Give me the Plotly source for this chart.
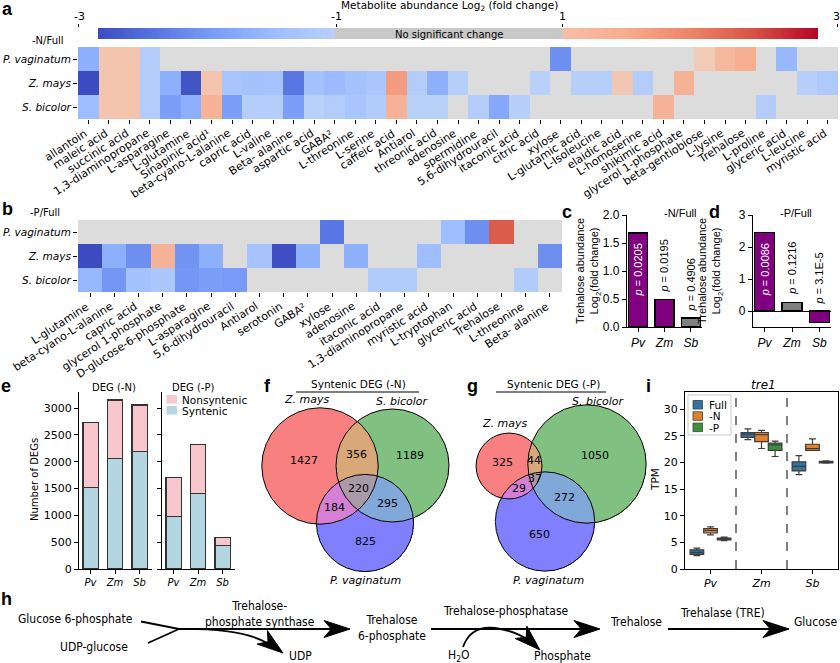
import numpy as np
import plotly.graph_objects as go

W, H = 840, 663

# ---------------- data ----------------
species_rows = ["P. vaginatum", "Z. mays", "S. bicolor"]

a_metabolites = ["allantoin", "maleic acid", "succinic acid", "1,3-diaminopropane", "L-asparagine",
                 "L-glutamine", "Sinapinic acid¹", "beta-cyano-L-alanine", "capric acid", "L-valine",
                 "Beta- alanine", "aspartic acid", "GABA²", "L-threonine", "L-serine", "caffeic acid",
                 "Antiarol", "threonic acid", "adenosine", "spermidine", "5,6-dihydrouracil",
                 "itaconic acid", "citric acid", "xylose", "L-glutamic acid", "L-Isoleucine",
                 "elaidic acid", "L-homoserine", "shikimic acid", "glycerol 1-phosphate",
                 "beta-gentiobiose", "L-lysine", "Trehalose", "L-proline", "glyceric acid",
                 "L-leucine", "myristic acid"]
a_pv = [-1.75, 1.1, 1.1, -1.1, 0, 0, 0, 0, 0, 0, 0, 0, 0, 0, 0, 0, 0, 0, 0, 0, 0, 0, 0, -2.2,
        0, 0, 0, 0, 0, 0, 1.0, 1.3, 1.45, 0, -1.6, 0, 0]
a_zm = [-3.0, 1.1, 1.1, -1.1, -1.75, -2.9, 1.1, -1.3, -1.4, -1.35, -2.5, -1.4, -1.55, -1.4, -1.25,
        1.7, -1.1, -1.75, -1.05, 0, 0, 0, -1.0, 0, -1.05, -1.05, 1.05, -1.1, 0, 1.4, 0, 0, 0, 0,
        0, -1.02, -1.2]
a_sb = [-1.5, 1.1, 1.1, -1.1, -2.0, -1.75, 1.4, -2.0, -1.08, -1.08, -2.0, -1.0, -1.1, -1.3, -1.15,
        1.4, -1.0, -1.0, 0, -1.1, -1.85, -1.02, 0, 0, 0, 0, 0, 0, 1.4, 0, 0, 0, 0, -1.1, 0, 0, 0]

b_metabolites = ["L-glutamine", "beta-cyano-L-alanine", "capric acid", "glycerol 1-phosphate",
                 "D-glucose-6-phosphate", "L-asparagine", "5,6-dihydrouracil", "Antiarol",
                 "serotonin", "GABA²", "xylose", "adenosine", "itaconic acid", "1,3-diaminopropane",
                 "myristic acid", "L-tryptophan", "glyceric acid", "Trehalose", "L-threonine",
                 "Beta- alanine"]
b_pv = [0, 0, 0, 0, 0, 0, 0, 0, 0, 0, -2.5, 0, 0, 0, 0, -1.5, -2.2, 2.4, 0, 0]
b_zm = [-3.0, -1.75, -2.2, 1.4, -2.15, -1.75, 0, -1.35, -2.95, -1.7, 0, -1.75, 0, 0, -1.5, 0, 0,
        0, 0, -2.2]
b_sb = [-1.6, -2.1, -1.4, -1.25, -2.1, -2.0, -2.05, 0, 0, 0, 0, 0, -1.15, -1.15, 0, 0, 0, 0,
        -1.15, 0]

short_species = ["Pv", "Zm", "Sb"]
treh_N = [1.68, 0.49, 0.16]
treh_N_p = ["0.0205", "0.0195", "0.4906"]
treh_P = [2.46, 0.27, -0.37]
treh_P_p = ["0.0086", "0.1216", "3.1E-5"]

deg_N_total = [2724, 3150, 3056]
deg_N_syn = [1524, 2055, 2186]
deg_P_total = [1699, 2325, 593]
deg_P_syn = [986, 1412, 431]
deg_legend = ["Nonsyntenic", "Syntenic"]

venn_regions = ["Zm", "Sb", "Zm&Sb", "Pv", "Zm&Pv", "Sb&Pv", "Zm&Sb&Pv"]
venn_N = [1427, 1189, 356, 825, 184, 295, 220]
venn_P = [325, 1050, 44, 650, 29, 272, 37]

tre1_conditions = ["Full", "-N", "-P"]
tre1_q1 = [[2.75, 24.7, 18.4], [6.75, 23.9, 22.25], [5.45, 22.25, 19.9]]
tre1_med = [[3.1, 25.3, 19.25], [7.25, 25.2, 22.6], [5.6, 23.3, 20.05]]
tre1_q3 = [[3.6, 25.6, 20.1], [7.6, 25.6, 23.4], [5.8, 23.6, 20.2]]
tre1_lo = [[2.5, 24.25, 17.7], [6.4, 22.6, 22.25], [5.3, 21.1, 19.85]]
tre1_hi = [[3.9, 26.3, 21.25], [7.9, 26.0, 24.4], [6.0, 24.0, 20.3]]

colorbar_ticks = ["-3", "-1", "1", "3"]

# ---------------- helpers ----------------
def xd(a, b):
    return [a / W, b / W]

def yd(top, bot):
    return [1 - bot / H, 1 - top / H]

DV = "DejaVu Sans"
AR = "Liberation Sans"
NARROW = "Liberation Sans Narrow, DejaVu Sans Condensed, Arial Narrow, sans-serif"

heat_cs = [[0.0, "#3b4cc0"], [1 / 12, "#5977e3"], [2 / 12, "#7b9ff9"], [3 / 12, "#9ebeff"],
           [0.3334, "#b9d0f9"], [0.3367, "#dcdcdc"], [0.6633, "#dcdcdc"], [0.6666, "#f2cbb7"],
           [0.75, "#f7ac8e"], [10 / 12, "#ee8468"], [11 / 12, "#d65244"], [1.0, "#b40426"]]

fig = go.Figure()
annots = []
shapes = []

def text(x, y, s, size=10, family=DV, xref="paper", yref="paper", color="black", **kw):
    d = dict(x=x, y=y, text=s, showarrow=False, xref=xref, yref=yref, xanchor="center",
             yanchor="middle", font=dict(family=family, size=size, color=color))
    d.update(kw)
    annots.append(d)

def ptext(px, py, s, size=10, family=DV, **kw):
    text(px / W, 1 - py / H, s, size=size, family=family, **kw)

def prect(x0, y0, x1, y1, fill, line=None):
    shapes.append(dict(type="rect", xref="paper", yref="paper", x0=x0 / W, x1=x1 / W,
                       y0=1 - y1 / H, y1=1 - y0 / H, fillcolor=fill,
                       line=line if line else dict(width=0)))

LABEL_ANGLE = -33
LABEL_SIZE = 11

# ---------------- panel a ----------------
fig.add_trace(go.Heatmap(z=[a_pv, a_zm, a_sb], x=list(range(len(a_metabolites))), y=species_rows,
                         colorscale=heat_cs, zmin=-3, zmax=3, showscale=False,
                         xaxis="x", yaxis="y", hoverinfo="skip"))
for i, lab in enumerate(a_metabolites):
    text(i, 1 - 124 / H, lab, size=LABEL_SIZE, xref="x", yref="paper", textangle=LABEL_ANGLE,
         xanchor="right", yanchor="top", xshift=4)

# colour bar (legend of the heatmap)
cb_centers = np.arange(99.5, 818, 3.0)
cb_vals = []
for c in cb_centers:
    if c < 336:
        cb_vals.append(-3 + 2 * (c - 98) / (336 - 98))
    elif c < 562:
        cb_vals.append(0.0)
    else:
        cb_vals.append(1 + 2 * (c - 562) / (818 - 562))
cb_cs = [list(p) for p in heat_cs]
cb_cs[5][1] = "#c8c8c8"
cb_cs[6][1] = "#c8c8c8"
cb_cs[7][1] = "#f7bfa6"
fig.add_trace(go.Heatmap(z=[cb_vals], x=list(cb_centers), y=[0.5], colorscale=cb_cs, zmin=-3,
                         zmax=3, showscale=False, xaxis="x2", yaxis="y2", hoverinfo="skip"))
for lab, px in zip(colorbar_ticks, (79, 336, 562, 836)):
    ptext(px, 16, lab, size=11)

# ---------------- panel b ----------------
fig.add_trace(go.Heatmap(z=[b_pv, b_zm, b_sb], x=list(range(len(b_metabolites))), y=species_rows,
                         colorscale=heat_cs, zmin=-3, zmax=3, showscale=False,
                         xaxis="x3", yaxis="y3", hoverinfo="skip"))
for i, lab in enumerate(b_metabolites):
    text(i, 1 - 297 / H, lab, size=LABEL_SIZE, xref="x3", yref="paper", textangle=LABEL_ANGLE,
         xanchor="right", yanchor="top", xshift=4)

# ---------------- panels c, d ----------------
c_colors = ["#800080", "#800080", "#808080"]
d_colors = ["#800080", "#808080", "#800080"]
fig.add_trace(go.Bar(x=[0, 1, 2], y=treh_N, width=0.72,
                     marker=dict(color=c_colors, line=dict(color="black", width=1.3)),
                     xaxis="x4", yaxis="y4", showlegend=False, hoverinfo="skip"))
fig.add_trace(go.Bar(x=[0, 1, 2], y=treh_P, width=0.72,
                     marker=dict(color=d_colors, line=dict(color="black", width=1.3)),
                     xaxis="x5", yaxis="y5", showlegend=False, hoverinfo="skip"))
for ax, vals, ps in (("4", treh_N, treh_N_p), ("5", treh_P, treh_P_p)):
    for i, (v, p) in enumerate(zip(vals, ps)):
        s = "<i>p</i> = " + p
        if i == 0:
            text(i, v, s, size=11, family=AR, xref="x" + ax, yref="y" + ax, textangle=-90,
                 yanchor="top", yshift=-9, color="white")
        else:
            text(i, max(v, 0), s, size=11, family=AR, xref="x" + ax, yref="y" + ax,
                 textangle=-90, yanchor="bottom", yshift=5)

# ---------------- panel e ----------------
syn_col = "#b3d6e0"
non_col = "#f7c7cd"
edge = dict(color="#333333", width=1.2)
for ax, tot, syn in (("6", deg_N_total, deg_N_syn), ("7", deg_P_total, deg_P_syn)):
    fig.add_trace(go.Bar(x=[0, 1, 2], y=syn, width=0.62, name=deg_legend[1],
                         marker=dict(color=syn_col, line=edge), xaxis="x" + ax, yaxis="y" + ax,
                         showlegend=False, hoverinfo="skip"))
    fig.add_trace(go.Bar(x=[0, 1, 2], y=[t - s for t, s in zip(tot, syn)], width=0.62,
                         name=deg_legend[0],
                         marker=dict(color=non_col, line=edge), xaxis="x" + ax, yaxis="y" + ax,
                         showlegend=False, hoverinfo="skip"))
for k, (lab, col) in enumerate(zip(deg_legend, (non_col, syn_col))):
    y0 = 395 + 11 * k
    prect(166.5, y0, 177, y0 + 8.5, col)
    ptext(180, y0 + 4.5, lab, size=10.5, xanchor="left")

# ---------------- panels f, g (Venn) ----------------
region_colors = ["#f88080", "#80c080", "#d8a878", "#8080ff", "#d580d5", "#80a8d8", "#aa9aa8"]
venn_layout = {
    "N": dict(centers={"Zm": (320, 466), "Sb": (392.5, 465.5), "Pv": (365, 523)}, k=1.245,
              counts=venn_N, xlim=(258, 460)),
    "P": dict(centers={"Zm": (509, 466), "Sb": (587, 464), "Pv": (545, 521.5)}, k=1.58,
              counts=venn_P, xlim=(460, 650)),
}
gx = np.arange(258.25, 650, 0.5)
gy = np.arange(378.25, 590, 0.5)
GX, GY = np.meshgrid(gx, gy)
Z = np.full(GX.shape, np.nan)
bits = {"Zm": 1, "Sb": 2, "Pv": 4}
for key, v in venn_layout.items():
    cnt = v["counts"]
    totals = {s: sum(c for r, c in zip(venn_regions, cnt) if s in r.split("&")) for s in bits}
    code = np.zeros(GX.shape, dtype=int)
    sel = (GX >= v["xlim"][0]) & (GX < v["xlim"][1])
    for s, b in bits.items():
        cx, cy = v["centers"][s]
        r = v["k"] * np.sqrt(totals[s])
        inside = (GX - cx) ** 2 + (GY - cy) ** 2 <= r ** 2
        code += b * (inside & sel)
        shapes.append(dict(type="circle", xref="x8", yref="y8", x0=cx - r, x1=cx + r,
                           y0=cy - r, y1=cy + r, line=dict(color="black", width=1)))
    Z[code > 0] = code[code > 0]
    for idx, c in enumerate(cnt):
        m = code == idx + 1
        if m.any():
            text(float(GX[m].mean()), float(GY[m].mean()), str(c), size=11,
                 xref="x8", yref="y8")
rows_keep = np.where(~np.all(np.isnan(Z), axis=1))[0]
cols_keep = np.where(~np.all(np.isnan(Z), axis=0))[0]
Zc = Z[rows_keep[0]:rows_keep[-1] + 1, cols_keep[0]:cols_keep[-1] + 1]
zlist = [[None if np.isnan(val) else int(val) for val in row] for row in Zc]
venn_cs = []
for i, col in enumerate(region_colors):
    venn_cs.append([i / 7, col])
    venn_cs.append([(i + 1) / 7, col])
fig.add_trace(go.Heatmap(z=zlist, x=list(gx[cols_keep[0]:cols_keep[-1] + 1]),
                         y=list(gy[rows_keep[0]:rows_keep[-1] + 1]), colorscale=venn_cs,
                         zmin=0.5, zmax=7.5, showscale=False, xaxis="x8", yaxis="y8",
                         hoverinfo="skip"))

# ---------------- panel i ----------------
box_colors = ["#3274a1", "#e1812c", "#3a923a"]
for j, cond in enumerate(tre1_conditions):
    fig.add_trace(go.Box(x=short_species, q1=tre1_q1[j], median=tre1_med[j], q3=tre1_q3[j],
                         lowerfence=tre1_lo[j], upperfence=tre1_hi[j], name=cond,
                         fillcolor=box_colors[j], marker_color=box_colors[j],
                         line=dict(color="#3d3d3d", width=1.2), boxpoints=False,
                         xaxis="x9", yaxis="y9", showlegend=False, hoverinfo="skip"))
for xv in (0.5, 1.5):
    shapes.append(dict(type="line", xref="x9", yref="y9", x0=xv, x1=xv, y0=0, y1=33.2,
                       line=dict(color="black", width=1, dash="dash")))
prect(688, 395, 731, 435, "white", dict(color="#cccccc", width=1))
for k, (lab, col) in enumerate(zip(tre1_conditions, box_colors)):
    y0 = 400.5 + 11.3 * k
    prect(693, y0, 702.5, y0 + 8.5, col, dict(color="#3d3d3d", width=0.8))
    ptext(707, y0 + 4.5, lab, size=10.5, xanchor="left")

# ---------------- panel h (pathway schematic) ----------------
def head(tip, ang_deg, L=26, w=8.5):
    a = np.radians(ang_deg)
    ux, uy = np.cos(a), np.sin(a)
    nx, ny = -uy, ux
    tx, ty = tip
    bx, by = tx - L * ux, ty - L * uy
    p1 = (bx + w * nx, by + w * ny)
    p2 = (tx - 0.72 * L * ux, ty - 0.72 * L * uy)
    p3 = (bx - w * nx, by - w * ny)
    return (f"M {tx:.1f},{ty:.1f} L {p1[0]:.1f},{p1[1]:.1f} L {p2[0]:.1f},{p2[1]:.1f} "
            f"L {p3[0]:.1f},{p3[1]:.1f} Z")

hk = dict(xref="x10", yref="y10")
blk = dict(color="black", width=1.8)
for (x0, y0, x1, y1) in ((141, 621.5, 179, 629), (148, 643, 179, 629), (178, 629, 332, 629),
                         (431, 629, 582, 629), (668, 629, 772, 629)):
    shapes.append(dict(type="line", x0=x0, y0=y0, x1=x1, y1=y1, line=blk, **hk))
shapes.append(dict(type="path", path="M 178,629 Q 243,628 269,644", line=blk, **hk))
shapes.append(dict(type="path", path="M 463,647 Q 471,625 495,628 Q 515,631 528,640", line=blk, **hk))
for tip, ang in (((283, 653), 37), ((350, 629), 0), ((600, 629), 0), ((789, 629), 0),
                 ((540, 650), 43)):
    shapes.append(dict(type="path", path=head(tip, ang), fillcolor="black",
                       line=dict(color="black", width=1), **hk))

hf = dict(size=12, family=NARROW, xref="x10", yref="y10")
text(75, 619, "Glucose 6-phosphate", **hf)
text(94, 647, "UDP-glucose", **hf)
text(260, 614, "Trehalose-<br>phosphate synthase", **hf)
text(300, 656, "UDP", **hf)
text(392, 628, "Trehalose<br>6-phosphate", **hf)
text(506, 611, "Trehalose-phosphatase", **hf)
text(458, 656, "H<sub>2</sub>O", **hf)
text(562, 656, "Phosphate", **hf)
text(636, 622, "Trehalose", **hf)
text(722, 613, "Trehalase (TRE)", **hf)
text(815, 622, "Glucose", **hf)

# ---------------- texts ----------------
ptext(449, 6.5, "Metabolite abundance Log<sub>2</sub> (fold change)", size=10.5)
ptext(449, 34, "No significant change", size=10)
ptext(48, 40, "-N/Full", size=10)
ptext(45, 213, "-P/Full", size=10)
ptext(680, 213, "-N/Full", size=11, family=AR)
ptext(796, 213, "-P/Full", size=11, family=AR)
ptext(588, 271, "Trehalose abundance<br>Log<sub>2</sub>(fold change)", size=11, family=AR,
      textangle=-90)
ptext(710, 271, "Trehalose abundance<br>Log<sub>2</sub>(fold change)", size=11, family=AR,
      textangle=-90)
ptext(114, 387, "DEG (-N)", size=10)
ptext(193, 387, "DEG (-P)", size=10)
ptext(34, 480, "Number of DEGs", size=10, textangle=-90)
ptext(358, 384, "Syntenic DEG (-N)", size=10.5)
ptext(553, 384, "Syntenic DEG (-P)", size=10.5)
shapes.append(dict(type="line", xref="paper", yref="paper", x0=296 / W, x1=419 / W,
                   y0=1 - 392 / H, y1=1 - 392 / H, line=dict(color="black", width=1.2)))
shapes.append(dict(type="line", xref="paper", yref="paper", x0=496 / W, x1=606 / W,
                   y0=1 - 392 / H, y1=1 - 392 / H, line=dict(color="black", width=1.2)))
ptext(306, 399, "<i>Z. mays</i>", size=11)
ptext(402, 401, "<i>S. bicolor</i>", size=11)
ptext(365, 580, "<i>P. vaginatum</i>", size=11)
ptext(504, 424, "<i>Z. mays</i>", size=11)
ptext(598, 401, "<i>S. bicolor</i>", size=11)
ptext(548, 580, "<i>P. vaginatum</i>", size=11)
ptext(763, 385, "<i>tre1</i>", size=12)
ptext(655, 480, "TPM", size=10.5, textangle=-90)

for lab, px, py in (("a", 7, 9), ("b", 7, 209), ("c", 567, 212), ("d", 714, 212), ("e", 6, 386),
                    ("f", 267, 386), ("g", 472, 386), ("i", 648, 386), ("h", 6, 599)):
    ptext(px, py, "<b>" + lab + "</b>", size=18, family=AR)

# ---------------- axes ----------------
def base(**kw):
    d = dict(showgrid=False, zeroline=False, automargin=False)
    d.update(kw)
    return d

tick_style = dict(ticks="outside", ticklen=4, tickwidth=1, tickcolor="black")
line_style = dict(showline=True, linecolor="black", linewidth=1.3)
ital_species = ["<i>" + s + "</i>" for s in species_rows]
ital_short = ["<i>" + s + "</i>" for s in short_species]

layout_axes = dict(
    xaxis=base(domain=xd(78, 838), anchor="y", range=[-0.5, len(a_metabolites) - 0.5],
               tickvals=list(range(len(a_metabolites))), showticklabels=False, **tick_style),
    yaxis=base(domain=yd(47, 119), anchor="x", autorange="reversed", type="category",
               tickvals=species_rows, ticktext=ital_species, tickfont=dict(family=DV, size=10.5),
               **tick_style),
    xaxis2=base(domain=xd(78, 840), anchor="y2", range=[78, 840], side="top",
                tickvals=[78, 336, 562, 837], showticklabels=False,
                ticks="outside", ticklen=3, tickcolor="black"),
    yaxis2=base(domain=yd(28, 39), anchor="x2", range=[0, 1], visible=False),
    xaxis3=base(domain=xd(78, 562), anchor="y3", range=[-0.5, len(b_metabolites) - 0.5],
                tickvals=list(range(len(b_metabolites))), showticklabels=False, **tick_style),
    yaxis3=base(domain=yd(220, 292), anchor="x3", autorange="reversed", type="category",
                tickvals=species_rows, ticktext=ital_species, tickfont=dict(family=DV, size=10.5),
                **tick_style),
    xaxis4=base(domain=xd(627, 702), anchor="y4", range=[-0.42, 2.42], tickvals=[0, 1, 2],
                ticktext=ital_short, tickfont=dict(family=AR, size=12), **tick_style, **line_style),
    yaxis4=base(domain=yd(215, 327), anchor="x4", range=[0, 2.0],
                tickvals=[0, 0.5, 1.0, 1.5, 2.0], ticktext=["0.0", "0.5", "1.0", "1.5", "2.0"],
                tickfont=dict(family=AR, size=12), **tick_style, **line_style),
    xaxis5=base(domain=xd(753, 831), anchor="y5", range=[-0.42, 2.42], tickvals=[0, 1, 2],
                ticktext=ital_short, tickfont=dict(family=AR, size=12), **tick_style, **line_style),
    yaxis5=dict(domain=yd(215, 327), anchor="x5", range=[-0.5, 3], showgrid=False, automargin=False,
                zeroline=True, zerolinecolor="black", zerolinewidth=1.3,
                tickvals=[0, 1, 2, 3], tickfont=dict(family=AR, size=12), **tick_style, **line_style),
    xaxis6=base(domain=xd(79, 152), anchor="y6", range=[-0.47, 2.51], tickvals=[0, 1, 2],
                ticktext=ital_short, tickfont=dict(family=DV, size=10), **tick_style, **line_style),
    yaxis6=base(domain=yd(392, 569), anchor="x6", range=[0, 3300],
                tickvals=[0, 500, 1000, 1500, 2000, 2500, 3000], tickfont=dict(family=DV, size=11),
                **tick_style, **line_style),
    xaxis7=base(domain=xd(162, 235), anchor="y7", range=[-0.47, 2.51], tickvals=[0, 1, 2],
                ticktext=ital_short, tickfont=dict(family=DV, size=10), **tick_style, **line_style),
    yaxis7=base(domain=yd(392, 569), anchor="x7", range=[0, 3300],
                tickvals=[0, 500, 1000, 1500, 2000, 2500, 3000], showticklabels=False,
                **tick_style, **line_style),
    xaxis8=base(domain=xd(258, 650), anchor="y8", range=[258, 650], visible=False),
    yaxis8=base(domain=yd(378, 590), anchor="x8", range=[590, 378], visible=False),
    xaxis9=base(domain=xd(685, 838), anchor="y9", range=[-0.5, 2.5], type="category",
                tickvals=short_species, ticktext=ital_short, tickfont=dict(family=DV, size=11),
                mirror=True, **tick_style, **line_style),
    yaxis9=base(domain=yd(392, 569), anchor="x9", range=[0, 33.2],
                tickvals=[0, 5, 10, 15, 20, 25, 30], tickfont=dict(family=DV, size=11),
                mirror=True, **tick_style, **line_style),
    xaxis10=base(domain=[0, 1], anchor="y10", range=[0, 840], visible=False),
    yaxis10=base(domain=yd(590, 663), anchor="x10", range=[663, 590], visible=False),
)

fig.update_layout(
    width=W, height=H, margin=dict(l=0, r=0, t=0, b=0), template="none",
    paper_bgcolor="white", plot_bgcolor="rgba(0,0,0,0)",
    font=dict(family=DV, size=10, color="black"), showlegend=False,
    barmode="stack", boxmode="group", boxgap=0.2, boxgroupgap=0.0,
    annotations=annots, shapes=shapes,
    **layout_axes,
)

fig.write_html("out.html", config={"displayModeBar": False},
               post_script="document.body.style.margin='0px';"
                           "document.body.style.padding='0px';")
